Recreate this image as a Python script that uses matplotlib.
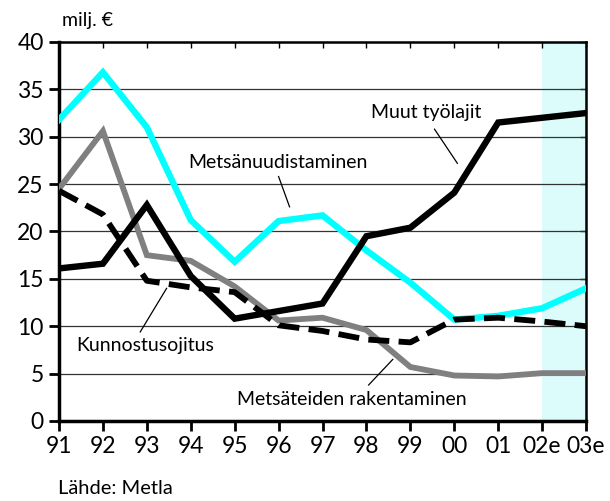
import matplotlib.pyplot as plt

years = ['91', '92', '93', '94', '95', '96', '97', '98', '99', '00', '01', '02e', '03e']
uudistaminen = [31.8, 36.8, 31.0, 21.2, 16.8, 21.1, 21.7, 18.0, 14.6, 10.7, 11.1, 11.9, 14.0]
muut = [16.1, 16.6, 22.8, 15.3, 10.8, 11.6, 12.4, 19.5, 20.4, 24.1, 31.5, 32.0, 32.5]
tiet = [24.5, 30.6, 17.5, 16.9, 14.2, 10.6, 10.9, 9.6, 5.7, 4.8, 4.7, 5.05, 5.05]
ojitus = [24.3, 21.8, 14.8, 14.1, 13.6, 10.1, 9.5, 8.6, 8.3, 10.7, 10.9, 10.5, 10.0]

plt.rcParams['font.family'] = ['Lato', 'DejaVu Sans']

fig = plt.figure(figsize=(6.1, 5.01), dpi=100)
ax = fig.add_axes([0.0967, 0.1597, 0.864, 0.7565])
x = list(range(len(years)))

# estimate years shaded
ax.axvspan(11, 12, color='#dcfcfc', lw=0, zorder=0)
for v in range(5, 40, 5):
    ax.axhline(v, color='#333333', lw=0.9, zorder=1)

ax.plot(x, uudistaminen, color='#00ffff', lw=4.6, solid_joinstyle='miter', zorder=3)
ax.plot(x, tiet, color='#808080', lw=4.2, solid_joinstyle='miter', zorder=4)
ax.plot(x, muut, color='black', lw=4.6, solid_joinstyle='miter', zorder=5)
ax.plot(x, ojitus, color='black', lw=4.2, dashes=(3.6, 1.6), zorder=6)

ax.set_xlim(0, 12)
ax.set_ylim(0, 40)
ax.set_xticks(x)
ax.set_xticklabels(years)
ax.set_yticks(range(0, 41, 5))
ax.tick_params(axis='both', labelsize=16.5, length=7, width=2, direction='out', pad=4)

for side in ['left', 'bottom']:
    ax.spines[side].set_linewidth(2.5)
for side in ['top', 'right']:
    ax.spines[side].set_linewidth(1.8)

sx = ax.secondary_xaxis('top')
sx.set_xticks(x)
sx.tick_params(direction='in', length=4, width=1, labeltop=False)
sy = ax.secondary_yaxis('right')
sy.set_yticks(range(0, 41, 5))
sy.tick_params(direction='in', length=4, width=1, labelright=False)

# labels with leader lines
lab = dict(fontsize=14, color='black', zorder=7)
ax.text(2.95, 27.3, 'Metsänuudistaminen', ha='left', va='center', **lab)
ax.plot([5.0, 5.25], [25.8, 22.6], color='black', lw=0.9, zorder=7)
ax.text(7.1, 32.6, 'Muut työlajit', ha='left', va='center', **lab)
ax.plot([8.55, 9.07], [30.8, 27.2], color='black', lw=0.9, zorder=7)
ax.text(0.4, 8.0, 'Kunnostusojitus', ha='left', va='center', **lab)
ax.plot([2.45, 1.85], [14.0, 9.4], color='black', lw=0.9, zorder=7)
ax.text(4.05, 2.3, 'Metsäteiden rakentaminen', ha='left', va='center', **lab)
ax.plot([7.05, 7.6], [3.8, 6.5], color='black', lw=0.9, zorder=7)

fig.text(0.102, 0.96, 'milj. €', fontsize=14, ha='left', va='center')
fig.text(0.095, 0.025, 'Lähde: Metla', fontsize=14.5, ha='left', va='center')

fig.savefig('out.png', dpi=100)
